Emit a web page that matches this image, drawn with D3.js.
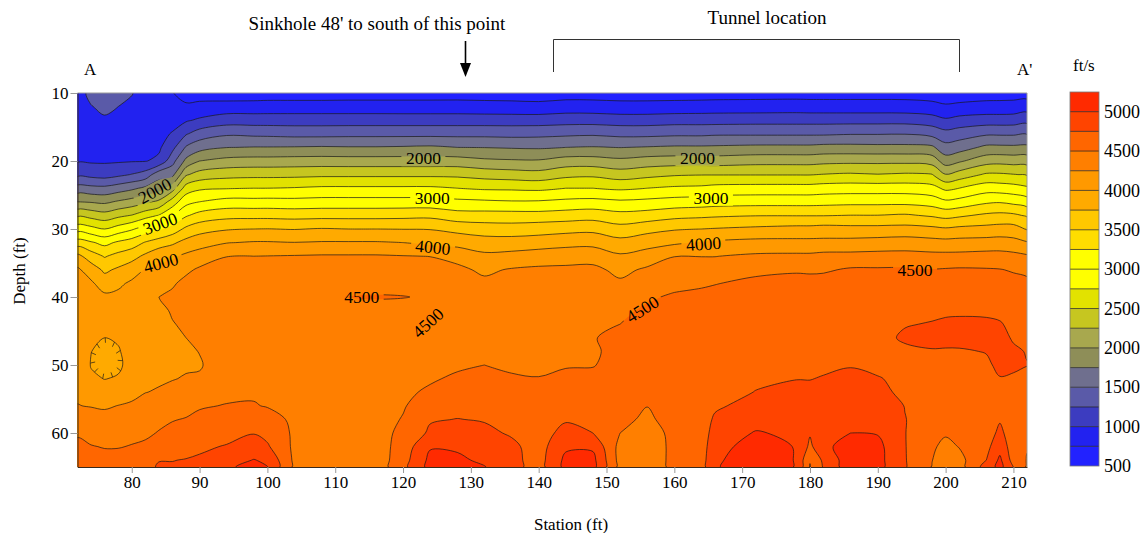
<!DOCTYPE html>
<html>
<head>
<meta charset="utf-8">
<title>Seismic velocity section</title>
<script src="https://cdn.jsdelivr.net/npm/d3@7"></script>
<style>
  body { margin: 0; background: #fff; }
  text { font-family: "Liberation Serif", serif; fill: #000; }
</style>
</head>
<body>
<svg id="chart" width="1143" height="533"></svg>
<script>
// grid, one line per station, values top to bottom along depths
let stations = [72,74,76,78,80,82,84,86,88,90,94,98,100,104,108,112,116,120,124,128,132,136,140,144,148,152,156,160,164,166,172,178,180,182,186,190,194,198,200,202,206,208,210,212];
let depths = [10,12,14,16,18,20,22,24,26,28,30,32,34,36,38,39.5,40,40.5,42,44,46,48,50,52,54,56,58,60,62,64,65];

let velocityByStation = [
  [900,920,930,940,950,975,1190,1600,2000,2456,2900,3370,3818,4040,4060,4080,4080,4080,4090,4110,4130,4150,4170,4190,4220,4255,4380,4470,4560,4640,4680],
  [1060,990,940,930,940,970,1170,1570,1980,2410,2830,3280,3625,3880,4040,4060,4060,4060,4080,4050,4020,4003,3990,4030,4100,4240,4340,4430,4510,4590,4620],
  [1120,1050,970,930,940,970,1140,1560,1950,2350,2750,3180,3480,3705,3880,4010,4040,4060,4070,4030,4000,3950,3940,3995,4080,4220,4330,4420,4490,4560,4600],
  [1080,1000,950,930,940,975,1195,1625,2030,2440,2860,3290,3580,3790,3955,4030,4040,4050,4060,4040,4020,3985,3970,4015,4120,4255,4340,4430,4490,4570,4610],
  [1010,960,930,930,945,985,1260,1700,2100,2510,2970,3370,3660,3890,4040,4070,4080,4085,4090,4090,4085,4070,4060,4080,4170,4290,4370,4450,4510,4590,4640],
  [900,900,910,925,945,990,1350,1800,2200,2650,3110,3520,3800,4015,4080,4100,4110,4120,4125,4130,4135,4130,4130,4160,4245,4340,4420,4470,4530,4620,4660],
  [850,870,890,920,960,1050,1660,1890,2300,2760,3210,3630,3920,4065,4160,4230,4250,4245,4200,4190,4190,4190,4200,4220,4270,4370,4460,4510,4600,4740,4780],
  [760,820,900,1020,1180,1415,1680,2140,2620,2970,3360,3710,3965,4100,4220,4280,4295,4290,4270,4240,4220,4210,4220,4240,4310,4410,4490,4550,4640,4745,4770],
  [650,790,970,1225,1525,1810,2220,2610,2920,3220,3553,3830,4050,4200,4320,4360,4370,4370,4330,4280,4250,4220,4225,4265,4340,4440,4510,4580,4670,4760,4790],
  [640,820,1035,1365,1655,2000,2350,2710,3000,3340,3655,3905,4105,4290,4360,4400,4410,4410,4390,4350,4300,4255,4235,4270,4370,4480,4550,4620,4700,4790,4830],
  [600,855,1130,1465,1745,2080,2415,2735,3090,3420,3730,3990,4245,4350,4400,4420,4420,4420,4420,4410,4390,4370,4350,4390,4450,4510,4570,4650,4770,4900,4960],
  [610,855,1130,1445,1760,2100,2430,2750,3085,3425,3750,4020,4250,4360,4430,4450,4450,4450,4450,4450,4450,4450,4450,4460,4480,4510,4620,4740,4860,5010,5080],
  [620,860,1130,1440,1760,2100,2430,2750,3090,3425,3755,4020,4255,4370,4450,4460,4460,4460,4460,4460,4460,4460,4460,4470,4480,4490,4570,4680,4780,4960,5005],
  [620,860,1130,1420,1765,2110,2435,2765,3080,3410,3740,4005,4265,4380,4450,4460,4470,4470,4470,4470,4470,4470,4470,4470,4475,4470,4465,4460,4450,4450,4450],
  [620,860,1130,1420,1775,2115,2450,2790,3095,3420,3765,4020,4275,4390,4450,4465,4470,4465,4460,4460,4460,4460,4460,4460,4460,4460,4450,4440,4430,4420,4410],
  [630,860,1130,1430,1765,2110,2450,2790,3095,3420,3750,4020,4275,4400,4460,4480,4505,4480,4460,4460,4460,4460,4460,4460,4460,4450,4440,4430,4410,4390,4380],
  [630,860,1130,1430,1765,2110,2450,2790,3095,3420,3750,4020,4275,4400,4460,4485,4530,4485,4460,4460,4460,4460,4460,4460,4460,4450,4430,4400,4370,4350,4350],
  [635,855,1130,1430,1775,2110,2450,2790,3095,3430,3745,4000,4260,4385,4450,4480,4510,4480,4450,4450,4450,4450,4460,4465,4475,4485,4510,4560,4610,4650,4680],
  [635,855,1130,1430,1790,2110,2450,2790,3095,3440,3740,3950,4245,4370,4440,4470,4470,4470,4440,4450,4450,4460,4470,4485,4520,4600,4730,4790,4980,5060,5080],
  [640,855,1130,1430,1750,2110,2445,2750,3060,3350,3680,3910,4180,4300,4370,4400,4410,4410,4420,4430,4440,4450,4480,4520,4590,4680,4755,4850,4970,5040,5070],
  [640,840,1130,1430,1745,2050,2400,2715,3040,3350,3630,3860,4055,4208,4300,4350,4360,4370,4390,4410,4430,4460,4500,4560,4620,4680,4735,4800,4880,4960,5010],
  [640,830,1130,1420,1730,2030,2370,2710,3020,3350,3615,3860,4080,4270,4330,4350,4350,4360,4370,4380,4400,4430,4470,4520,4570,4620,4670,4725,4800,4820,4830],
  [630,820,1130,1430,1720,2025,2345,2695,3025,3343,3650,3870,4135,4290,4345,4380,4385,4390,4400,4410,4425,4445,4470,4505,4550,4590,4620,4640,4650,4650,4650],
  [640,860,1150,1450,1750,2110,2430,2750,3060,3370,3670,3920,4145,4300,4400,4440,4450,4450,4450,4450,4460,4470,4490,4530,4590,4660,4725,4830,4960,5060,5070],
  [640,855,1150,1465,1765,2110,2450,2750,3080,3395,3685,3930,4150,4310,4390,4400,4400,4410,4420,4440,4495,4480,4492,4540,4600,4650,4700,4750,4960,5070,5080],
  [640,830,1130,1430,1745,2060,2375,2710,3040,3330,3590,3835,4035,4185,4290,4370,4400,4410,4460,4500,4525,4545,4560,4570,4590,4580,4570,4500,4420,4410,4420],
  [640,830,1130,1430,1765,2110,2430,2750,3065,3360,3670,3905,4110,4290,4390,4470,4480,4490,4530,4560,4590,4610,4610,4610,4570,4505,4450,4380,4340,4320,4310],
  [640,840,1150,1450,1785,2130,2475,2790,3100,3425,3730,3960,4245,4365,4460,4505,4520,4530,4570,4590,4600,4610,4620,4630,4650,4640,4610,4570,4570,4580,4580],
  [640,850,1150,1450,1785,2130,2490,2805,3120,3450,3750,4015,4245,4365,4465,4540,4555,4565,4590,4600,4610,4620,4630,4640,4650,4650,4650,4650,4650,4650,4650],
  [640,860,1150,1465,1790,2125,2490,2835,3140,3465,3765,4040,4245,4370,4490,4560,4570,4580,4600,4610,4620,4630,4640,4660,4680,4720,4780,4830,4890,4950,4970],
  [650,860,1160,1465,1810,2160,2490,2850,3155,3490,3800,4075,4290,4440,4560,4600,4610,4620,4640,4640,4640,4650,4670,4720,4755,4820,4900,5020,5130,5180,5190],
  [650,870,1160,1465,1810,2160,2490,2850,3155,3490,3830,4070,4300,4470,4590,4620,4630,4640,4650,4650,4650,4660,4680,4745,4800,4850,4900,4950,4985,4985,4985],
  [650,860,1160,1465,1810,2160,2490,2850,3155,3490,3830,4070,4300,4460,4590,4620,4630,4640,4640,4640,4650,4660,4690,4745,4790,4810,4800,4770,4700,4505,4495],
  [650,860,1160,1465,1830,2180,2510,2870,3165,3490,3850,4070,4325,4470,4590,4620,4630,4640,4640,4640,4650,4660,4720,4760,4800,4840,4880,4900,4940,4800,4770],
  [650,860,1160,1485,1830,2190,2535,2880,3180,3505,3830,4080,4325,4530,4590,4610,4620,4630,4640,4640,4650,4660,4740,4790,4840,4880,4940,5000,5110,5150,5160],
  [650,860,1160,1485,1820,2190,2510,2880,3180,3505,3830,4100,4335,4530,4600,4610,4615,4620,4630,4630,4640,4650,4670,4770,4810,4860,4910,4985,5070,5080,5080],
  [650,855,1160,1490,1820,2190,2535,2880,3180,3530,3840,4120,4335,4535,4600,4610,4620,4620,4640,4730,4800,4680,4660,4670,4700,4745,4755,4755,4760,4765,4770],
  [640,821,1115,1425,1796,2143,2510,2836,3133,3470,3810,4090,4320,4510,4570,4600,4610,4620,4680,4770,4830,4730,4680,4680,4680,4680,4670,4620,4540,4505,4490],
  [620,780,1035,1335,1587,1875,2260,2695,3045,3420,3780,4080,4320,4520,4580,4600,4610,4620,4700,4800,4840,4720,4680,4660,4650,4650,4630,4530,4430,4380,4370],
  [630,800,1090,1380,1637,1965,2360,2750,3085,3460,3810,4090,4320,4530,4600,4620,4630,4630,4720,4790,4830,4725,4690,4680,4660,4650,4620,4570,4510,4420,4400],
  [645,830,1125,1465,1805,2150,2535,2890,3210,3545,3830,4100,4340,4520,4600,4620,4640,4650,4710,4790,4830,4760,4710,4700,4680,4660,4640,4640,4680,4750,4850],
  [650,830,1125,1465,1805,2170,2535,2875,3230,3565,3850,4110,4340,4510,4600,4640,4650,4660,4690,4770,4810,4820,4800,4740,4680,4680,4730,4800,4910,5050,5080],
  [650,840,1130,1465,1800,2150,2510,2850,3185,3545,3850,4080,4320,4480,4570,4600,4610,4640,4660,4690,4730,4780,4790,4720,4680,4660,4640,4630,4620,4650,4750],
  [640,885,1170,1485,1810,2150,2480,2790,3120,3470,3730,4020,4280,4440,4560,4590,4600,4610,4630,4660,4690,4740,4755,4700,4670,4650,4620,4600,4510,4490,4470]
];

// contour levels and the band colour above each one
let levels = d3.range(500, 5250, 250);
let bandColors = ['#2222ff','#2222f0','#3c3cc0','#5a5aa8','#6f6f8e','#8e8e58','#a8a84e','#c6c620','#e2e200','#ffff00','#ffff00','#ffdd00','#ffc800','#ffaa00','#ff9900','#ff7f00','#ff6600','#ff4400','#ff2a00'];

let stationTicks = d3.range(80, 220, 10);
let depthTicks = d3.range(10, 70, 10);
let legendTicks = d3.range(500, 5500, 500);

// inline labels: [value, station, depth, angle]
let contourLabels = [
  [2000, 123, 19.6, 0], [2000, 163.4, 19.6, 0], [2000, 83.4, 24.4, -28],
  [3000, 124.3, 25.5, 0], [3000, 165.4, 25.4, 0], [3000, 84.2, 29.2, -20],
  [4000, 124.4, 32.7, 6], [4000, 164.3, 32.2, -4], [4000, 84.3, 35, -15],
  [4500, 113.9, 40, 0], [4500, 195.5, 36.1, 0], [4500, 155.3, 41.8, -32], [4500, 123.7, 43.8, -42]
];

let width = 1143, height = 533;
let x = d3.scaleLinear().domain([72, 212]).range([77.5, 1027]);
let y = d3.scaleLinear().domain([10, 65]).range([93, 467]);
let legendY = d3.scaleLinear().domain([500, 5250]).range([466, 92]);

let svg = d3.select('#chart');
let defs = svg.append('defs');

defs.append('clipPath').attr('id', 'plot-clip')
  .append('rect')
  .attr('x', x(72)).attr('y', y(10))
  .attr('width', x(212) - x(72)).attr('height', y(65) - y(10));

// the grid is uneven, so cell centres get mapped back to station and depth
let n = stations.length, m = depths.length;
let gridX = d3.scaleLinear()
  .domain([0].concat(stations.map((d, i) => i + 0.5), [n]))
  .range([71].concat(stations, [213]));
let gridY = d3.scaleLinear()
  .domain([0].concat(depths.map((d, j) => j + 0.5), [m]))
  .range([9.5].concat(depths, [65.5]));

let values = [];
for (let j = 0; j < m; j++) {
  for (let i = 0; i < n; i++) {
    values.push(velocityByStation[i][j]);
  }
}

let contours = d3.contours().size([n, m]).thresholds(levels)(values);

function project(p) {
  return [x(gridX(p[0])), y(gridY(p[1]))];
}

let ringLine = d3.line().curve(d3.curveCatmullRomClosed.alpha(0.5));

function contourPath(c) {
  let out = '';
  c.coordinates.forEach(poly => {
    poly.forEach(ring => {
      out += ringLine(ring.slice(0, -1).map(project));
    });
  });
  return out;
}

let plot = svg.append('g').attr('clip-path', 'url(#plot-clip)');

plot.append('rect')
  .attr('x', x(72)).attr('y', y(10))
  .attr('width', x(212) - x(72)).attr('height', y(65) - y(10))
  .attr('fill', bandColors[0]);

plot.append('g').selectAll('path')
  .data(contours)
  .enter().append('path')
  .attr('d', contourPath)
  .attr('fill-rule', 'evenodd')
  .attr('fill', (d, i) => bandColors[i]);

// the patch in the top left corner is greyer than its band
let cornerPatch = contours[levels.indexOf(1000)].coordinates
  .map(poly => poly[0].slice(0, -1).map(project))
  .filter(ring => {
    let c = d3.polygonCentroid(ring);
    return c[0] < x(84) && c[1] < y(14);
  });
plot.selectAll('path.corner')
  .data(cornerPatch)
  .enter().append('path')
  .attr('class', 'corner')
  .attr('d', ringLine)
  .attr('fill', bandColors[3]);

// lines break under the labels
let mask = defs.append('mask').attr('id', 'label-gaps')
  .attr('maskUnits', 'userSpaceOnUse')
  .attr('x', 0).attr('y', 0).attr('width', width).attr('height', height);
mask.append('rect').attr('width', width).attr('height', height).attr('fill', '#fff');
mask.selectAll('rect.gap')
  .data(contourLabels)
  .enter().append('rect')
  .attr('class', 'gap')
  .attr('x', -22).attr('y', -8).attr('width', 44).attr('height', 16)
  .attr('fill', '#000')
  .attr('transform', d => `translate(${x(d[1])},${y(d[2])}) rotate(${d[3]})`);

let lines = plot.append('g').attr('mask', 'url(#label-gaps)');
lines.selectAll('path')
  .data(contours.slice(1))
  .enter().append('path')
  .attr('d', contourPath)
  .attr('fill', 'none')
  .attr('stroke', '#1a1a1a')
  .attr('stroke-width', 0.7);

// hachures on the closed low around station 76
let low = contours[levels.indexOf(4000)].coordinates
  .flatMap(poly => poly)
  .map(ring => ring.slice(0, -1).map(project))
  .filter(ring => {
    let c = d3.polygonCentroid(ring);
    return Math.abs(c[0] - x(76)) < 20 && Math.abs(c[1] - y(49)) < 20;
  })[0];
if (low) {
  let centre = d3.polygonCentroid(low);
  let probe = lines.append('path').attr('d', ringLine(low)).attr('fill', 'none').attr('stroke', 'none');
  let len = probe.node().getTotalLength();
  lines.selectAll('line.hachure')
    .data(d3.range(11))
    .enter().append('line')
    .attr('class', 'hachure')
    .each(function(k) {
      let p = probe.node().getPointAtLength(len * k / 11);
      let dx = centre[0] - p.x, dy = centre[1] - p.y;
      let dist = Math.hypot(dx, dy);
      d3.select(this)
        .attr('x1', p.x).attr('y1', p.y)
        .attr('x2', p.x + dx / dist * 5).attr('y2', p.y + dy / dist * 5);
    })
    .attr('stroke', '#1a1a1a')
    .attr('stroke-width', 0.7);
}

svg.append('g').selectAll('text')
  .data(contourLabels)
  .enter().append('text')
  .attr('transform', d => `translate(${x(d[1])},${y(d[2])}) rotate(${d[3]})`)
  .attr('text-anchor', 'middle')
  .attr('dy', '0.34em')
  .attr('font-size', 17.5)
  .text(d => d[0]);

// frame
svg.append('path')
  .attr('d', `M${x(72)},${y(10)}H${x(212)}V${y(65)}`)
  .attr('fill', 'none').attr('stroke', '#999').attr('stroke-width', 1);

// axes
let xAxis = svg.append('g')
  .attr('transform', `translate(0,${y(65)})`)
  .call(d3.axisBottom(x).tickValues(stationTicks).tickSize(6).tickSizeOuter(0).tickPadding(3));
let yAxis = svg.append('g')
  .attr('transform', `translate(${x(72)},0)`)
  .call(d3.axisLeft(y).tickValues(depthTicks).tickSize(7).tickSizeOuter(0).tickPadding(2));
[xAxis, yAxis].forEach(a => {
  a.attr('font-family', null).attr('font-size', null);
  a.selectAll('text').attr('font-size', 17).style('font-family', '"Liberation Serif", serif');
  a.selectAll('.tick line').attr('stroke', '#999');
  a.select('.domain').attr('stroke', '#3a2a1a');
});

svg.append('text').attr('x', 571).attr('y', 530).attr('text-anchor', 'middle').attr('font-size', 17).text('Station (ft)');
svg.append('text').attr('transform', 'translate(25,271) rotate(-90)').attr('text-anchor', 'middle').attr('font-size', 17).text('Depth (ft)');

// legend
let legend = svg.append('g');
legend.selectAll('rect')
  .data(levels)
  .enter().append('rect')
  .attr('x', 1070).attr('width', 29)
  .attr('y', d => legendY(d + 250))
  .attr('height', d => legendY(d) - legendY(d + 250))
  .attr('fill', (d, i) => bandColors[i]);
legend.selectAll('line')
  .data(levels.slice(1))
  .enter().append('line')
  .attr('x1', 1070).attr('x2', 1099)
  .attr('y1', d => legendY(d)).attr('y2', d => legendY(d))
  .attr('stroke', '#1a1a1a').attr('stroke-width', 0.7);
legend.append('rect')
  .attr('x', 1070).attr('y', 92).attr('width', 29).attr('height', 374)
  .attr('fill', 'none').attr('stroke', '#777').attr('stroke-width', 0.8);
legend.selectAll('text.tick')
  .data(legendTicks)
  .enter().append('text')
  .attr('class', 'tick')
  .attr('x', 1104)
  .attr('y', d => legendY(d))
  .attr('dy', '0.34em')
  .attr('font-size', 18)
  .text(d => d);
svg.append('text').attr('x', 1073).attr('y', 71).attr('font-size', 17).text('ft/s');

// annotations
svg.append('text').attr('x', 377).attr('y', 30).attr('text-anchor', 'middle').attr('font-size', 19).text("Sinkhole 48' to south of this point");
svg.append('text').attr('x', 767).attr('y', 24).attr('text-anchor', 'middle').attr('font-size', 19).text('Tunnel location');
svg.append('text').attr('x', 84).attr('y', 75).attr('font-size', 17).text('A');
svg.append('text').attr('x', 1017).attr('y', 75).attr('font-size', 17).text("A'");
svg.append('path').attr('d', 'M553.5,72V39.5H959.5V72').attr('fill', 'none').attr('stroke', '#333').attr('stroke-width', 1);
svg.append('path').attr('d', 'M465.5,41V66').attr('stroke', '#000').attr('stroke-width', 1.6);
svg.append('path').attr('d', 'M460,63L471,63L465.5,77Z').attr('fill', '#000');
</script>
</body>
</html>
